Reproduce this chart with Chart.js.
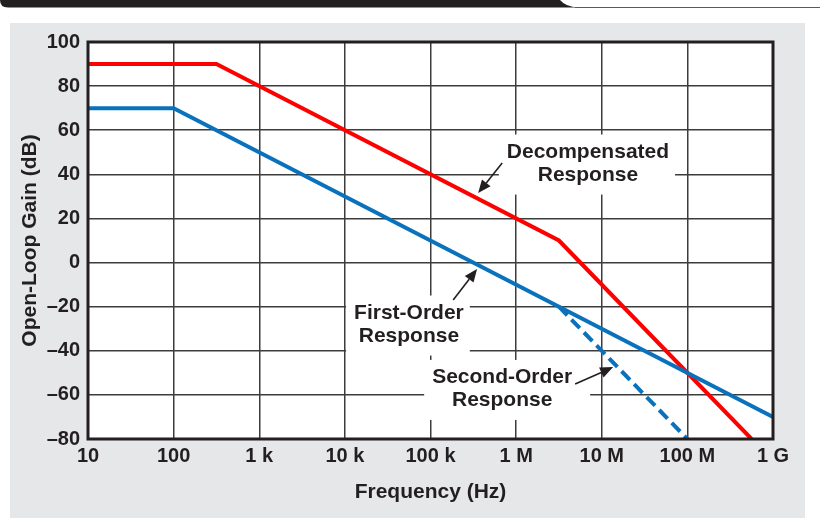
<!DOCTYPE html>
<html>
<head>
<meta charset="utf-8">
<script src="https://cdn.jsdelivr.net/npm/chart.js@4.4.1/dist/chart.umd.min.js"></script>
<style>
  html, body { margin: 0; padding: 0; background: #fff; }
  canvas { display: block; }
</style>
</head>
<body>
<canvas id="mychart" width="820" height="527"></canvas>
<script>
// frequency ticks (Hz) and their labels
const xTickValues = [10, 100, 1e3, 1e4, 1e5, 1e6, 1e7, 1e8, 1e9];
const xTickLabels = ["10", "100", "1 k", "10 k", "100 k", "1 M", "10 M", "100 M", "1 G"];

// first-order (compensated) response
const firstFreq = [10, 100, 1e9];
const firstGain = [70, 70, -70];

// second-order response (dashed)
const secondFreq = [3.16e6, 1e8];
const secondGain = [-20, -80];

// decompensated response
const decompFreq = [10, 316, 3.16e6, 5.62e8];
const decompGain = [90, 90, 10, -80];

const ink = "#231f20";
const blue = "#0a72bd";
const red = "#ff0000";
const fam = "'Liberation Sans', Arial, sans-serif";

function pts(xs, ys) {
  return xs.map((x, i) => ({ x: x, y: ys[i] }));
}

// callouts: text block centre and arrow (tail -> tip), in data units
const callouts = [
  { lines: ["Decompensated", "Response"], x: 6.9e6, y: 44.9, box: [8, 6, 6, 8],
    from: [6.87e5, 45.1], to: [3.6e5, 31.5] },
  { lines: ["First-Order", "Response"], x: 5.6e4, y: -28.1, box: [8, 6, 6, 8],
    from: [1.84e5, -17.0], to: [3.5e5, -2.9] },
  { lines: ["Second-Order", "Response"], x: 6.87e5, y: -57.3, box: [8, 6, 18, 8],
    from: [4.89e6, -55.1], to: [1.36e7, -47.4] }
];

const textFont = "bold 21px " + fam;
const lineH = 23;

const decor = {
  id: "decor",
  beforeDraw(chart) {
    const ctx = chart.ctx;
    const a = chart.chartArea;
    ctx.save();
    // header bar
    ctx.fillStyle = ink;
    ctx.beginPath();
    ctx.moveTo(0, 0);
    ctx.lineTo(560, 0);
    ctx.quadraticCurveTo(566, 7, 578, 7.5);
    ctx.lineTo(8, 7.5);
    ctx.quadraticCurveTo(0, 7.5, 0, 0);
    ctx.fill();
    ctx.strokeStyle = "#5a5a5a";
    ctx.lineWidth = 1.2;
    ctx.beginPath();
    ctx.moveTo(575, 7.5);
    ctx.lineTo(820, 7.5);
    ctx.stroke();
    // grey panel
    ctx.fillStyle = "#e6e7e8";
    ctx.fillRect(10, 23, 795, 495);
    // plot area
    ctx.fillStyle = "#ffffff";
    ctx.fillRect(a.left, a.top, a.right - a.left, a.bottom - a.top);
    ctx.restore();
  },
  beforeDatasetsDraw(chart) {
    const ctx = chart.ctx;
    const xs = chart.scales.x, ys = chart.scales.y;
    ctx.save();
    ctx.font = textFont;
    ctx.textAlign = "center";
    ctx.textBaseline = "middle";
    callouts.forEach(c => {
      const cx = xs.getPixelForValue(c.x);
      const cy = ys.getPixelForValue(c.y);
      const w = Math.max(...c.lines.map(l => ctx.measureText(l).width));
      const h = lineH * c.lines.length;
      const [pl, pt, pr, pb] = c.box;
      ctx.fillStyle = "#ffffff";
      ctx.fillRect(cx - w / 2 - pl, cy - h / 2 - pt, w + pl + pr, h + pt + pb);
      ctx.fillStyle = ink;
      c.lines.forEach((l, i) => {
        ctx.fillText(l, cx, cy - h / 2 + lineH * (i + 0.5));
      });
    });
    ctx.restore();
  },
  afterDatasetsDraw(chart) {
    const ctx = chart.ctx;
    const a = chart.chartArea;
    const xs = chart.scales.x, ys = chart.scales.y;
    ctx.save();
    // arrows
    ctx.strokeStyle = ink;
    ctx.fillStyle = ink;
    ctx.lineWidth = 1.6;
    callouts.forEach(c => {
      const x1 = xs.getPixelForValue(c.from[0]), y1 = ys.getPixelForValue(c.from[1]);
      const x2 = xs.getPixelForValue(c.to[0]), y2 = ys.getPixelForValue(c.to[1]);
      const ang = Math.atan2(y2 - y1, x2 - x1);
      const len = 13, half = 5.5;
      const bx = x2 - len * Math.cos(ang), by = y2 - len * Math.sin(ang);
      ctx.beginPath();
      ctx.moveTo(x1, y1);
      ctx.lineTo(bx, by);
      ctx.stroke();
      ctx.beginPath();
      ctx.moveTo(x2, y2);
      ctx.lineTo(bx + half * Math.sin(ang), by - half * Math.cos(ang));
      ctx.lineTo(bx - half * Math.sin(ang), by + half * Math.cos(ang));
      ctx.closePath();
      ctx.fill();
    });
    // frame
    ctx.lineWidth = 3;
    ctx.strokeRect(a.left, a.top, a.right - a.left, a.bottom - a.top);
    ctx.restore();
  }
};

new Chart(document.getElementById("mychart"), {
  type: "line",
  data: {
    datasets: [{
      label: "First-Order Response",
      data: pts(firstFreq, firstGain),
      borderColor: blue,
      borderWidth: 4,
      fill: false
    }, {
      label: "Second-Order Response",
      data: pts(secondFreq, secondGain),
      borderColor: blue,
      borderWidth: 4,
      borderDash: [12, 6],
      fill: false
    }, {
      label: "Decompensated Response",
      data: pts(decompFreq, decompGain),
      borderColor: red,
      borderWidth: 4,
      fill: false
    }]
  },
  options: {
    responsive: false,
    animation: false,
    devicePixelRatio: 1,
    layout: { padding: { left: 10, top: 42, right: 47, bottom: 9 } },
    elements: { point: { radius: 0 }, line: { tension: 0, borderJoinStyle: "miter" } },
    plugins: { legend: { display: false }, tooltip: { enabled: false } },
    scales: {
      x: {
        type: "logarithmic",
        min: 10,
        max: 1e9,
        afterBuildTicks: s => { s.ticks = xTickValues.map(v => ({ value: v })); },
        afterFit: s => { s.height = 79; },
        ticks: {
          autoSkip: false,
          maxRotation: 0,
          padding: 5,
          color: ink,
          font: { family: fam, size: 20, weight: "bold" },
          callback: (v, i) => xTickLabels[i]
        },
        grid: { color: "#3c3c3c", lineWidth: 1.5, drawTicks: false },
        border: { display: false },
        title: {
          display: true,
          text: "Frequency (Hz)",
          color: ink,
          padding: { top: 0, bottom: 13 },
          font: { family: fam, size: 21, weight: "bold" }
        }
      },
      y: {
        min: -80,
        max: 100,
        afterFit: s => { s.width = 78; },
        ticks: {
          stepSize: 20,
          padding: 8,
          color: ink,
          font: { family: fam, size: 20, weight: "bold" },
          callback: v => (v < 0 ? "\u2013" + Math.abs(v) : String(v))
        },
        grid: { color: "#3c3c3c", lineWidth: 1.5, drawTicks: false },
        border: { display: false },
        title: {
          display: true,
          text: "Open-Loop Gain (dB)",
          color: ink,
          padding: { top: 8, bottom: 0 },
          font: { family: fam, size: 21, weight: "bold" }
        }
      }
    }
  },
  plugins: [decor]
});
</script>
</body>
</html>
